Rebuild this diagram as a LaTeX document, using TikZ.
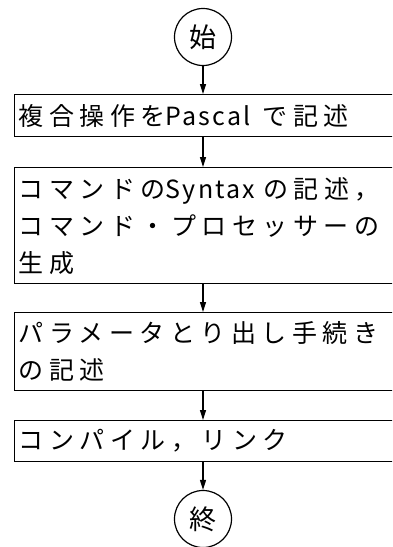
\documentclass[tikz,border=0pt]{standalone}
\usepackage{fontspec}
\setmainfont{Noto Sans CJK JP}
\newfontfamily\jp[LetterSpace=22]{Noto Sans CJK JP}
\newfontfamily\jpl{Noto Sans CJK JP}
\newfontfamily\jpm[LetterSpace=9]{Noto Sans CJK JP}
\usetikzlibrary{arrows.meta}
\begin{document}
\begin{tikzpicture}[x=1pt,y=-1pt,
  box/.style={draw, line width=1.3pt, rectangle, anchor=north west,
    minimum width=379pt, text width=371pt, align=left,
    inner xsep=4pt, inner ysep=0pt,
    font=\jp\fontsize{25}{37}\selectfont},
  term/.style={draw, circle, line width=1.2pt, minimum size=57pt,
    inner sep=0pt, font=\jpl\fontsize{27}{30}\selectfont},
  arr/.style={line width=1.2pt, -{Triangle[length=10pt,width=6pt]}}]
\useasboundingbox (0,0) rectangle (392,547);
\clip (0,0) rectangle (392,547);
\node[term] (start) at (203,37) {始};
\node[box, minimum height=42pt] (b1) at (14,94)
  {複合操作を{\jpm Pascal}\hspace{12pt}で記述};
\node[box, minimum height=116pt] (b2) at (14,167)
  {コマンドの{\jpm Syntax}\hspace{8pt}の記述，\\コマンド・プロセッサーの\\生成};
\node[box, minimum height=78pt] (b3) at (14,312)
  {パラメータとり出し手続き\\の記述};
\node[box, minimum height=41pt] (b4) at (14,420)
  {コンパイル，リンク};
\node[term] (end) at (203,519) {終};
\draw[arr] (start.south) -- (start.south |- b1.north);
\draw[arr] (start.south |- b1.south) -- (start.south |- b2.north);
\draw[arr] (start.south |- b2.south) -- (start.south |- b3.north);
\draw[arr] (start.south |- b3.south) -- (start.south |- b4.north);
\draw[arr] (start.south |- b4.south) -- (end.north);
\end{tikzpicture}
\end{document}
